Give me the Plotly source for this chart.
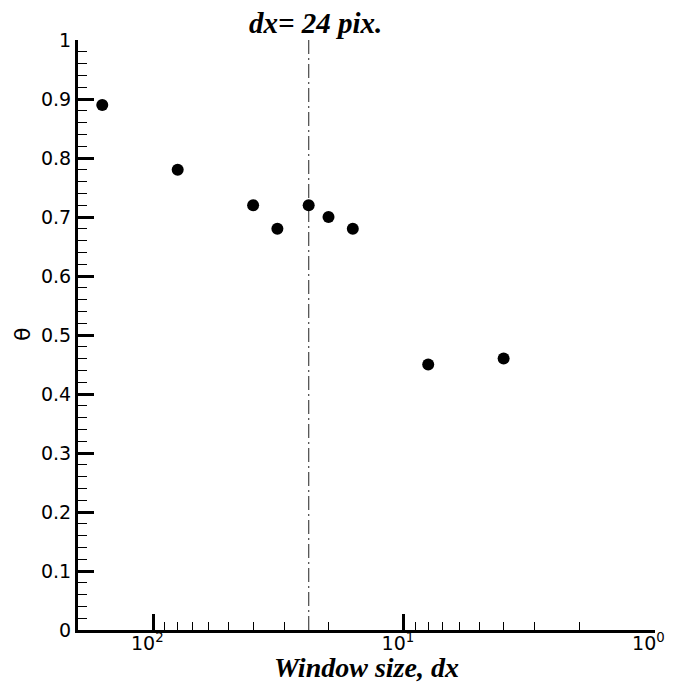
import plotly.graph_objects as go
import math

# Data
window_size = [160, 80, 40, 32, 24, 20, 16, 8, 4]
theta = [0.89, 0.78, 0.72, 0.68, 0.72, 0.70, 0.68, 0.45, 0.46]
ref_dx = 24
x_ticks = [100, 10, 1]
x_ticktext = ["10<sup>2</sup>\u00a0\u00a0", "10<sup>1</sup>\u00a0\u00a0", "10<sup>0</sup>\u00a0\u00a0"]
x_minor = [m * 10 ** e for e in (0, 1, 2) for m in range(2, 10) if m * 10 ** e < 200]
x_range_vals = [200, 0.995]

fig = go.Figure()
fig.add_trace(go.Scatter(
    x=[ref_dx, ref_dx], y=[0, 1], mode="lines",
    line=dict(color="#555555", width=1.3, dash="14px,4px,2px,4px"),
    showlegend=False, hoverinfo="skip"))
fig.add_trace(go.Scatter(
    x=window_size, y=theta, mode="markers",
    marker=dict(color="black", size=12),
    showlegend=False))

sans = "DejaVu Sans, Arial, sans-serif"
tickfont = dict(family=sans, size=19, color="black")
serif = "Liberation Serif, Times New Roman, serif"

# page body has an 8px default margin, so the figure is 8px smaller
fig.update_layout(
    width=666, height=680,
    margin=dict(l=70, r=19, t=32, b=58, autoexpand=False),
    plot_bgcolor="white", paper_bgcolor="white",
    xaxis=dict(
        type="log", range=[math.log10(x_range_vals[0]), math.log10(x_range_vals[1])],
        tickmode="array", tickvals=x_ticks, ticktext=x_ticktext,
        ticks="inside", ticklen=16, tickwidth=2.5, tickcolor="black",
        minor=dict(tickmode="array", tickvals=x_minor, ticks="inside",
                   ticklen=8, tickwidth=1, tickcolor="black", showgrid=False),
        showline=True, linecolor="black", linewidth=3,
        showgrid=False, zeroline=False, tickfont=tickfont, automargin=False,
        ticklabelstandoff=-6, ticklabeloverflow="allow",
    ),
    yaxis=dict(
        range=[0, 1], tickmode="linear", tick0=0, dtick=0.1,
        ticks="inside", ticklen=16, tickwidth=2.5, tickcolor="black",
        minor=dict(dtick=0.02, ticks="inside", ticklen=9, tickwidth=1,
                   tickcolor="black", showgrid=False),
        showline=True, linecolor="black", linewidth=3,
        showgrid=False, zeroline=False, tickfont=tickfont, automargin=False,
        ticklabeloverflow="allow",
    ),
    annotations=[
        dict(text="<b><i>dx= 24 pix.</i></b>", xref="paper", yref="paper",
             x=0.412, y=1.0, yshift=17, xanchor="center", yanchor="middle",
             showarrow=False, font=dict(family=serif, size=29, color="black")),
        dict(text="<b><i>Window size, dx</i></b>", xref="paper", yref="paper",
             x=0.5, y=0, yshift=-37, xanchor="center", yanchor="middle",
             showarrow=False, font=dict(family=serif, size=28, color="black")),
        dict(text="θ", xref="paper", yref="paper", textangle=-90,
             x=0, y=0.5, xshift=-56, xanchor="center", yanchor="middle",
             showarrow=False, font=dict(family=sans, size=22, color="black")),
    ],
)

fig.write_html("out.html")
